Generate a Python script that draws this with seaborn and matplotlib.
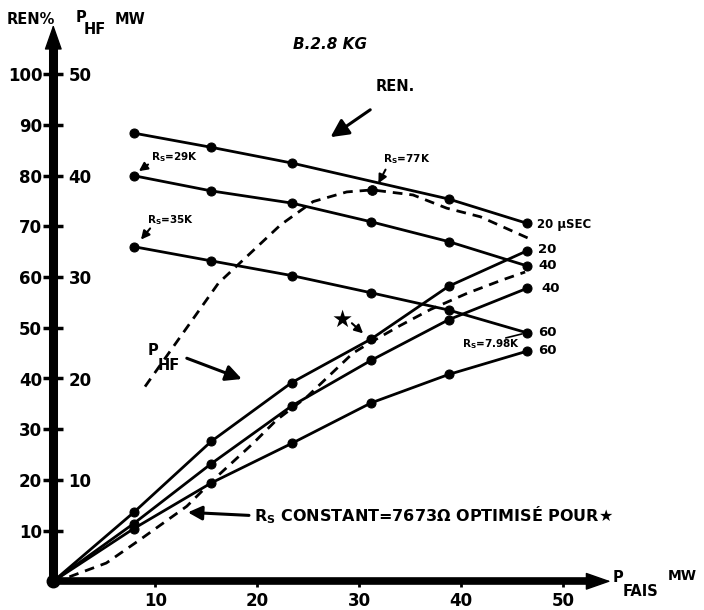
import numpy as np
import pandas as pd
import matplotlib
matplotlib.use("Agg")
import matplotlib.pyplot as plt
import seaborn as sns

# ---------------- data ----------------
p_fais = [7.9, 15.5, 23.4, 31.2, 38.8, 46.5]
p_fais_ren20 = [7.9, 15.5, 23.4, 38.8, 46.5]
ren_20 = [88.4, 85.6, 82.5, 75.4, 70.6]
ren_40 = [80.0, 77.0, 74.6, 70.9, 67.0, 62.2]
ren_60 = [66.0, 63.2, 60.3, 56.9, 53.5, 49.0]

p_fais_phf = [0.0, 7.9, 15.5, 23.4, 31.2, 38.8, 46.5]
phf_20 = [0.0, 6.8, 13.8, 19.6, 23.9, 29.1, 32.6]
phf_40 = [0.0, 5.7, 11.6, 17.3, 21.8, 25.8, 28.9]
phf_60 = [0.0, 5.2, 9.7, 13.6, 17.6, 20.4, 22.7]

# constant Rs = 7673 ohm (dashed)
ren_const_x = [9.0, 16.2, 22.3, 25.5, 28.8, 31.3, 35.3, 38.6, 41.9, 46.8]
ren_const_y = [38.4, 58.8, 70.3, 74.9, 76.8, 77.2, 76.2, 73.6, 71.9, 67.5]
phf_const_x = [0.0, 1.6, 5.2, 8.5, 13.1, 15.7, 19.6, 21.9, 24.9, 29.4, 31.2,
               34.0, 37.0, 40.6, 44.0, 46.3]
phf_const_y = [0.0, 0.45, 1.8, 4.1, 7.4, 10.0, 13.6, 15.9, 18.2, 22.5, 23.6,
               25.2, 26.8, 28.4, 29.7, 30.5]
rs77_x = [31.3]
rs77_y = [77.2]

ren_ticks = [10, 20, 30, 40, 50, 60, 70, 80, 90, 100]
phf_ticks = [10, 20, 30, 40, 50]
x_ticks = [10, 20, 30, 40, 50]

# ---------------- style ----------------
sns.set_style("white")
plt.rcParams["font.family"] = ["DejaVu Sans"]
plt.rcParams["mathtext.fontset"] = "dejavusans"
for k in ("text.color", "axes.labelcolor", "xtick.color", "ytick.color"):
    plt.rcParams[k] = "black"

fig = plt.figure(figsize=(7.04, 6.10), dpi=100)
ax = fig.add_axes([53.3 / 704, 28.7 / 610, 560.5 / 704, 557.7 / 610])
ax.set_xlim(0, 55)
ax.set_ylim(0, 110)
twin = ax.twinx()
twin.set_ylim(0, 55)

for a in (ax, twin):
    for s in a.spines.values():
        s.set_visible(False)
    a.set_facecolor("none")
    a.set_xlabel("")
    a.set_ylabel("")

line_kw = dict(color="black", linewidth=2.0, marker="o", markersize=6.5,
               markeredgecolor="black", markerfacecolor="black")
dash = (0, (3.5, 2.5))

# REN curves (left scale)
sns.lineplot(x=p_fais_ren20, y=ren_20, ax=ax, sort=False, **line_kw)
sns.lineplot(x=p_fais, y=ren_40, ax=ax, sort=False, **line_kw)
sns.lineplot(x=p_fais, y=ren_60, ax=ax, sort=False, **line_kw)
sns.lineplot(x=ren_const_x, y=ren_const_y, ax=ax, sort=False, color="black",
             linewidth=2.0, linestyle=dash)
sns.scatterplot(x=rs77_x, y=rs77_y, ax=ax, color="black", s=50,
                edgecolor="black", zorder=5)

# P_HF curves (right scale)
sns.lineplot(x=p_fais_phf, y=phf_20, ax=twin, sort=False, **line_kw)
sns.lineplot(x=p_fais_phf, y=phf_40, ax=twin, sort=False, **line_kw)
sns.lineplot(x=p_fais_phf, y=phf_60, ax=twin, sort=False, **line_kw)
sns.lineplot(x=phf_const_x, y=phf_const_y, ax=twin, sort=False, color="black",
             linewidth=2.0, linestyle=dash)

# axes drawn as thick arrows
ax.plot([0, 52.6], [0, 0], color="black", lw=5.5, solid_capstyle="butt",
        clip_on=False, zorder=6)
ax.plot([0, 0], [0, 105.5], color="black", lw=6.5, solid_capstyle="butt",
        clip_on=False, zorder=6)
head = dict(arrowstyle="-|>,head_length=1.0,head_width=0.35", lw=1,
            color="black", mutation_scale=16, shrinkA=0, shrinkB=0)
ax.annotate("", xy=(54.7, 0), xytext=(52.0, 0), annotation_clip=False,
            arrowprops=head, zorder=6)
ax.annotate("", xy=(0, 109.8), xytext=(0, 104.5), annotation_clip=False,
            arrowprops=head, zorder=6)
ax.plot([0], [0], marker="o", markersize=9, color="black", clip_on=False,
        zorder=7)

# ticks
ax.set_xticks(x_ticks)
ax.set_xticklabels([str(t) for t in x_ticks])
ax.set_yticks(ren_ticks)
ax.set_yticklabels([str(t) for t in ren_ticks])
ax.tick_params(axis="y", direction="inout", length=14, width=2.5,
               labelsize=12, pad=1, left=True)
ax.tick_params(axis="x", direction="out", length=4, width=2.0,
               labelsize=12, pad=4, bottom=True)
for lab in ax.get_xticklabels() + ax.get_yticklabels():
    lab.set_fontweight("bold")

twin.spines["right"].set_position(("axes", 0.0))
twin.set_yticks(phf_ticks)
twin.set_yticklabels([str(t) for t in phf_ticks])
twin.tick_params(axis="y", direction="out", length=0, labelsize=12, pad=11)
for lab in twin.get_yticklabels():
    lab.set_fontweight("bold")

# ---------------- texts ----------------
fig.text(7 / 704, 1 - 20 / 610, "REN%", fontsize=10.5, fontweight="bold",
         ha="left", va="center")
fig.text(76 / 704, 1 - 18 / 610, "P", fontsize=10.5, fontweight="bold",
         ha="left", va="center")
fig.text(84 / 704, 1 - 30 / 610, "HF", fontsize=10.5, fontweight="bold",
         ha="left", va="center")
fig.text(115 / 704, 1 - 20 / 610, "MW", fontsize=10.5, fontweight="bold",
         ha="left", va="center")

fig.text(613 / 704, 1 - 578 / 610, "P", fontsize=10.5, fontweight="bold",
         ha="left", va="center")
fig.text(623 / 704, 1 - 591 / 610, "FAIS", fontsize=10.5, fontweight="bold",
         ha="left", va="center")
fig.text(668 / 704, 1 - 576 / 610, "MW", fontsize=10, fontweight="bold",
         ha="left", va="center")

ax.text(23.5, 105.8, "B.2.8 KG", fontsize=11, fontweight="bold",
        fontstyle="italic", ha="left", va="center")
ax.text(31.6, 97.5, "REN.", fontsize=10.5, fontweight="bold",
        ha="left", va="center")
ax.annotate("", xy=(27.2, 87.6), xytext=(31.1, 93.0),
            arrowprops=dict(arrowstyle="-|>,head_length=0.6,head_width=0.3",
                            lw=2.2, color="black", mutation_scale=18,
                            shrinkA=0, shrinkB=0))

small = dict(fontsize=7.5, fontweight="bold", ha="left", va="center")
thin_arrow = dict(arrowstyle="-|>,head_length=0.5,head_width=0.25",
                  lw=1.5, color="black", mutation_scale=10,
                  shrinkA=0, shrinkB=0)
ax.text(9.6, 83.6, r"$\mathbf{R_{S}}$=29K", **small)
ax.annotate("", xy=(8.4, 80.9), xytext=(9.3, 82.2), arrowprops=thin_arrow)
ax.text(9.2, 71.3, r"$\mathbf{R_{S}}$=35K", **small)
ax.annotate("", xy=(8.6, 67.4), xytext=(9.5, 69.6), arrowprops=thin_arrow)
ax.text(32.4, 83.2, r"$\mathbf{R_{S}}$=77K", **small)
ax.annotate("", xy=(31.9, 78.5), xytext=(32.6, 81.2), arrowprops=thin_arrow)
ax.text(40.1, 46.8, r"$\mathbf{R_{S}}$=7.98K", **small)
ax.plot([44.4, 46.0], [48.0, 48.8], color="black", lw=1.2)

right = dict(fontsize=9.5, fontweight="bold", ha="left", va="center")
ax.text(47.5, 70.4, "20 µSEC", fontsize=8.5, fontweight="bold",
        ha="left", va="center")
ax.text(47.6, 65.4, "20", **right)
ax.text(47.6, 62.2, "40", **right)
ax.text(47.9, 57.8, "40", **right)
ax.text(47.6, 49.0, "60", **right)
ax.text(47.6, 45.5, "60", **right)

ax.text(9.8, 45.6, "P", fontsize=10.5, fontweight="bold", ha="center",
        va="center")
ax.text(11.3, 42.6, "HF", fontsize=10.5, fontweight="bold", ha="center",
        va="center")
ax.annotate("", xy=(18.5, 39.9), xytext=(13.1, 44.0),
            arrowprops=dict(arrowstyle="-|>,head_length=0.6,head_width=0.3",
                            lw=2.2, color="black", mutation_scale=16,
                            shrinkA=0, shrinkB=0))

ax.text(28.3, 51.5, "★", fontsize=17, ha="center", va="center",
        color="black")
ax.annotate("", xy=(30.4, 48.9), xytext=(29.3, 50.9), arrowprops=thin_arrow)

ax.text(19.7, 13.0, r"$\mathbf{R_{S}}$ CONSTANT=7673Ω OPTIMISÉ POUR★",
        fontsize=11.5, fontweight="bold", ha="left", va="center")
ax.annotate("", xy=(13.2, 13.6), xytext=(19.2, 13.0),
            arrowprops=dict(arrowstyle="-|>,head_length=0.6,head_width=0.3",
                            lw=2.2, color="black", mutation_scale=14,
                            shrinkA=0, shrinkB=0))

fig.savefig("out.png", dpi=100)
